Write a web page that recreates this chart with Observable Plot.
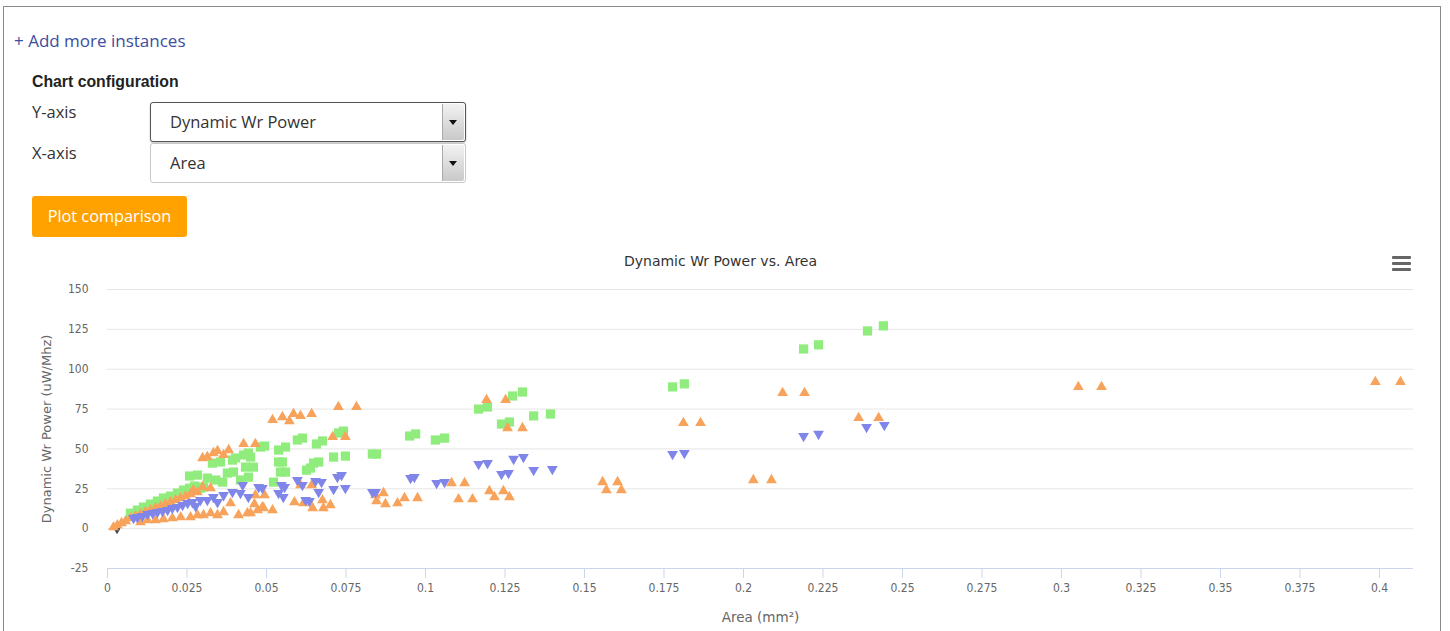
<!DOCTYPE html>
<html>
<head>
<meta charset="utf-8">
<script src="https://cdn.jsdelivr.net/npm/d3@7"></script>
<script src="https://cdn.jsdelivr.net/npm/@observablehq/plot@0.6"></script>
<style>
  html, body { margin: 0; padding: 0; background: #fff; }
  body { width: 1450px; height: 631px; position: relative; overflow: hidden; font-family: "Open Sans", sans-serif; color: #333; }
  .frame { position: absolute; left: 3px; top: 6px; width: 1436px; height: 640px; border: 1px solid #8a8a8a; border-bottom: none; }
  .abs { position: absolute; white-space: nowrap; line-height: 1; }
  .link { left: 14px; top: 32px; font-size: 17px; color: #3b4ea0; }
  .hdr { left: 32px; top: 74px; font-size: 15.8px; font-weight: bold; font-family: "Liberation Sans", Arial, sans-serif; color: #222; }
  .lbl { font-size: 16.5px; color: #333; }
  .sel { position: absolute; left: 150px; width: 314px; height: 38px; border: 1px solid #c8c8c8; border-radius: 3px; background: #fff; box-sizing: content-box; }
  .sel.focus { border-color: #555; box-shadow: 0 1px 2px rgba(0,0,0,0.25); }
  .sel span { position: absolute; left: 19px; top: 11px; font-size: 16.5px; line-height: 1; color: #333; }
  .sel .btn { position: absolute; right: 1px; top: 1px; width: 21px; height: 36px; background: linear-gradient(#f2f2f2, #c9c9c9); border-left: 1px solid #aaa; border-radius: 0 2px 2px 0; }
  .sel .btn::after { content: ""; position: absolute; left: 6px; top: 16px; border-left: 4.5px solid transparent; border-right: 4.5px solid transparent; border-top: 5px solid #111; }
  .button { position: absolute; left: 32px; top: 196px; width: 155px; height: 41px; background: #ffa200; border-radius: 3px; color: #fff; font-size: 16.3px; line-height: 41px; text-align: center; }
  .menu { position: absolute; left: 1392px; width: 19px; height: 3px; background: #666; border-radius: 1px; }
  #chart { position: absolute; left: 0; top: 245px; }
</style>
</head>
<body>
<div class="frame"></div>
<div class="abs link">+ Add more instances</div>
<div class="abs hdr">Chart configuration</div>
<div class="abs lbl" style="left:32px; top:104px;">Y-axis</div>
<div class="abs lbl" style="left:32px; top:145px;">X-axis</div>
<div class="sel focus" style="top:102px;"><span>Dynamic Wr Power</span><div class="btn"></div></div>
<div class="sel" style="top:143px;"><span>Area</span><div class="btn"></div></div>
<div class="button">Plot comparison</div>
<div class="menu" style="top:256px;"></div>
<div class="menu" style="top:262px;"></div>
<div class="menu" style="top:268px;"></div>
<div id="chart"></div>
<script>
// ---- Data (area in mm², dynamic write power in uW/MHz) ----
const chartTitle = "Dynamic Wr Power vs. Area";
const xLabel = "Area (mm²)";
const yLabel = "Dynamic Wr Power (uW/Mhz)";
const xTicks = [0, 0.025, 0.05, 0.075, 0.1, 0.125, 0.15, 0.175, 0.2, 0.225, 0.25, 0.275, 0.3, 0.325, 0.35, 0.375, 0.4];
const yTicks = [-25, 0, 25, 50, 75, 100, 125, 150];

// series drawn as green squares
const squareSeries = [
  [0.0072, 9.7], [0.0094, 11.6], [0.0113, 13.5], [0.0135, 15.4], [0.0157, 17.3], [0.0176, 19.2],
  [0.0198, 20.4], [0.0220, 22.3], [0.0239, 24.2], [0.0258, 25.4], [0.0274, 26.7], [0.0258, 33.0],
  [0.0283, 33.6], [0.0292, 25.4], [0.0302, 26.1], [0.0314, 31.7], [0.0330, 41.1], [0.0340, 30.5],
  [0.0355, 41.8], [0.0362, 29.2], [0.0377, 34.9], [0.0393, 43.0], [0.0396, 35.5], [0.0403, 44.3],
  [0.0418, 30.5], [0.0428, 46.2], [0.0443, 47.4], [0.0443, 32.3], [0.0434, 38.6], [0.0459, 38.6],
  [0.0450, 44.9], [0.0481, 51.2], [0.0494, 51.8], [0.0522, 29.2], [0.0538, 49.3], [0.0560, 51.2],
  [0.0538, 41.8], [0.0550, 41.8], [0.0544, 35.5], [0.0560, 35.5], [0.0597, 55.6], [0.0613, 56.8],
  [0.0626, 36.7], [0.0638, 38.0], [0.0648, 41.1], [0.0664, 41.8], [0.0657, 53.1], [0.0676, 55.0],
  [0.0711, 44.9], [0.0748, 45.5], [0.0726, 60.0], [0.0742, 61.2], [0.0833, 46.8], [0.0846, 46.8],
  [0.0950, 58.1], [0.0969, 59.4], [0.1031, 55.6], [0.1060, 56.8], [0.1167, 75.0], [0.1195, 76.3],
  [0.1239, 65.6], [0.1264, 66.9], [0.1274, 83.2], [0.1305, 85.7], [0.1340, 70.7], [0.1393, 71.9],
  [0.1777, 88.9], [0.1814, 90.8], [0.2189, 112.7], [0.2236, 115.3], [0.2390, 124.0], [0.2440, 127.2]
];

// series drawn as orange triangles
const triangleSeries = [
  [0.0019, 0.9], [0.0031, 2.2], [0.0044, 3.5], [0.0057, 4.7], [0.0072, 6.6], [0.0088, 7.9],
  [0.0104, 9.1], [0.0119, 10.4], [0.0135, 11.6], [0.0151, 12.9], [0.0167, 14.1], [0.0182, 15.4],
  [0.0198, 16.6], [0.0214, 17.9], [0.0230, 19.2], [0.0245, 20.4], [0.0261, 21.7], [0.0270, 24.2],
  [0.0283, 22.9], [0.0299, 26.1], [0.0324, 25.4],
  [0.0104, 4.1], [0.0126, 5.3], [0.0151, 5.3], [0.0176, 6.0], [0.0204, 6.6], [0.0230, 7.2],
  [0.0261, 7.2], [0.0283, 8.5], [0.0302, 8.5], [0.0324, 9.7], [0.0346, 8.5], [0.0365, 10.4],
  [0.0387, 16.0], [0.0412, 8.5], [0.0440, 9.7], [0.0465, 21.0], [0.0472, 11.6], [0.0487, 13.5],
  [0.0494, 21.0], [0.0519, 11.6], [0.0462, 15.4], [0.0491, 12.9], [0.0450, 9.7], [0.0588, 16.6],
  [0.0607, 27.3], [0.0642, 27.3], [0.0616, 16.0], [0.0645, 12.9], [0.0676, 17.9], [0.0679, 12.9],
  [0.0701, 14.8], [0.0846, 17.3], [0.0868, 22.3], [0.0874, 15.4], [0.0912, 16.0], [0.0934, 19.2],
  [0.0975, 19.2], [0.0843, 21.0],
  [0.0299, 44.3], [0.0314, 44.9], [0.0333, 47.4], [0.0346, 48.7], [0.0365, 46.2], [0.0381, 49.3],
  [0.0428, 53.1], [0.0465, 53.1], [0.0519, 68.2], [0.0550, 70.0], [0.0572, 67.5], [0.0585, 71.9],
  [0.0607, 70.7], [0.0642, 71.9], [0.0726, 76.3], [0.0783, 76.3], [0.0708, 57.5], [0.0748, 57.5],
  [0.1082, 28.6], [0.1123, 28.6], [0.1104, 18.5], [0.1148, 18.5], [0.1201, 23.6], [0.1217, 19.8],
  [0.1245, 23.6], [0.1264, 19.8], [0.1192, 80.7], [0.1252, 80.7], [0.1258, 63.1], [0.1305, 63.1],
  [0.1557, 29.2], [0.1604, 29.2], [0.1569, 24.2], [0.1616, 24.2], [0.1811, 66.3], [0.1865, 66.3],
  [0.2031, 30.5], [0.2088, 30.5], [0.2123, 85.1], [0.2192, 85.1], [0.2362, 69.4], [0.2425, 69.4],
  [0.3053, 88.9], [0.3126, 88.9], [0.3987, 92.0], [0.4066, 92.0]
];

// series drawn as blue downward triangles
const triangleDownSeries = [
  [0.0082, 6.6], [0.0094, 7.2], [0.0110, 7.9], [0.0126, 9.1], [0.0142, 9.7], [0.0157, 10.4],
  [0.0173, 11.0], [0.0189, 11.6], [0.0204, 12.9], [0.0220, 13.5], [0.0236, 14.8], [0.0252, 16.0],
  [0.0267, 16.6], [0.0277, 14.1], [0.0292, 17.9], [0.0314, 17.9], [0.0333, 19.8], [0.0346, 16.6],
  [0.0365, 21.0], [0.0393, 22.9], [0.0418, 22.3], [0.0425, 27.3], [0.0443, 19.8], [0.0475, 26.1],
  [0.0487, 25.4], [0.0538, 22.3], [0.0553, 19.8], [0.0547, 27.3], [0.0557, 26.1], [0.0597, 30.5],
  [0.0613, 27.3], [0.0654, 29.8], [0.0673, 29.2], [0.0664, 22.9], [0.0623, 17.9], [0.0635, 17.3],
  [0.0723, 32.3], [0.0736, 33.6], [0.0711, 24.8], [0.0748, 25.4], [0.0833, 22.9], [0.0843, 22.9],
  [0.0953, 31.7], [0.0965, 32.3], [0.1035, 28.6], [0.1060, 29.2], [0.1167, 40.5], [0.1195, 41.1],
  [0.1239, 34.2], [0.1261, 34.9], [0.1277, 43.7], [0.1308, 44.9], [0.1340, 36.7], [0.1399, 37.4],
  [0.1777, 46.8], [0.1814, 47.4], [0.2189, 58.1], [0.2236, 59.4], [0.2387, 63.7], [0.2443, 65.0]
];

// single dark diamond near the origin
const diamondSeries = [[0.003, 0]];

const seriesColors = { square: "#90ed7d", triangle: "#f7a35c", triangleDown: "#8085e9", diamond: "#434348" };

const tickFont = '"DejaVu Sans Condensed", "DejaVu Sans", sans-serif';
const labelFont = '"DejaVu Sans", sans-serif';
const fmt = d => String(+d.toFixed(3));

const chart = Plot.plot({
  width: 1440,
  height: 385,
  marginLeft: 107,
  marginRight: 27,
  marginTop: 44,
  marginBottom: 62,
  style: { fontFamily: tickFont, fontSize: "12px", background: "transparent", overflow: "visible" },
  x: { domain: [0, 0.4107] },
  y: { domain: [-25, 150] },
  marks: [
    Plot.ruleY(yTicks.filter(v => v > -25), { stroke: "#e6e6e6", strokeWidth: 1 }),
    Plot.ruleY([-25], { stroke: "#ccd6eb", strokeWidth: 1 }),
    Plot.axisX({ ticks: xTicks, tickFormat: fmt, tickSize: 10, tickPadding: 5, stroke: "#ccd6eb", fill: "#666", label: null }),
    Plot.axisY({ ticks: yTicks, tickFormat: fmt, tickSize: 0, tickPadding: 19, fill: "#666", label: null }),
    Plot.dot(diamondSeries, { x: d => d[0], y: d => d[1], symbol: "diamond", r: 3.4, fill: seriesColors.diamond }),
    Plot.dot(squareSeries, { x: d => d[0], y: d => d[1], symbol: "square", r: 5.2, fill: seriesColors.square }),
    Plot.dot(triangleSeries, { x: d => d[0], y: d => d[1], symbol: "triangle", r: 4.0, fill: seriesColors.triangle }),
    Plot.dot(triangleDownSeries, { x: d => d[0], y: d => d[1], symbol: "triangle", rotate: 180, r: 4.0, fill: seriesColors.triangleDown }),
    Plot.text([chartTitle], { frameAnchor: "top", textAnchor: "middle", dx: -40, dy: -33, fontSize: 14, fontFamily: labelFont, fill: "#333" }),
    Plot.text([yLabel], { frameAnchor: "left", textAnchor: "middle", dx: -61, rotate: -90, fontSize: 13, fontFamily: labelFont, fill: "#666" }),
    Plot.text([xLabel], { frameAnchor: "bottom", textAnchor: "middle", dy: 53, fontSize: 13.5, fontFamily: labelFont, fill: "#666" })
  ]
});
document.getElementById("chart").appendChild(chart);
</script>
</body>
</html>
